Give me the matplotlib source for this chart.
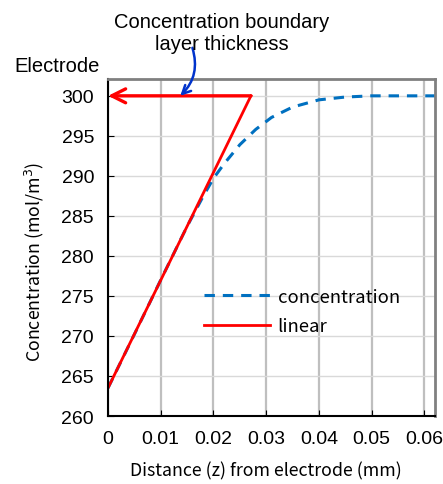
import matplotlib
matplotlib.use("Agg")
import matplotlib.pyplot as plt

# distance from electrode (mm) and concentration (mol/m3)
z_conc = [0.0, 0.005, 0.010, 0.015, 0.018, 0.020, 0.022, 0.025, 0.028,
          0.031, 0.035, 0.040, 0.045, 0.050, 0.055, 0.062]
conc = [263.5, 270.2, 277.0, 283.7, 287.4, 289.7, 291.5, 293.9, 295.8,
        297.3, 298.6, 299.5, 299.85, 300.0, 300.0, 300.0]

# linear approximation (tangent at the electrode)
z_lin = [0.0, 0.0271]
c_lin = [263.5, 300.0]

x_ticks = [0, 0.01, 0.02, 0.03, 0.04, 0.05, 0.06]
x_labels = ["0", "0.01", "0.02", "0.03", "0.04", "0.05", "0.06"]
y_ticks = [260, 265, 270, 275, 280, 285, 290, 295, 300]

BLUE = "#0070C0"
RED = "#FF0000"
JP = ["Noto Sans CJK JP", "DejaVu Sans"]

plt.rcParams["font.family"] = ["Liberation Sans", "DejaVu Sans"]

fig = plt.figure(figsize=(4.43, 4.85), dpi=100)
ax = fig.add_axes([0.2438, 0.1402, 0.7382, 0.6948])

ax.plot(z_conc, conc, color=BLUE, linewidth=2.2, linestyle=(0, (3.4, 2.6)),
        label="concentration")
ax.plot(z_lin, c_lin, color=RED, linewidth=2.0, label="linear")

# red arrow back to the electrode along the 300 line
ax.annotate("", xy=(0, 300), xytext=(z_lin[1], 300),
            arrowprops=dict(arrowstyle="->,head_length=1.0,head_width=0.5",
                            color=RED, lw=2.4, shrinkA=0, shrinkB=0))

ax.set_xlim(0, 0.062)
ax.set_ylim(260, 302.1)
ax.set_xticks(x_ticks)
ax.set_xticklabels(x_labels)
ax.set_yticks(y_ticks)
ax.tick_params(direction="in", length=4, labelsize=14, pad=10, colors="black")

ax.grid(axis="x", color="#BFBFBF", linewidth=1.6)
ax.grid(axis="y", color="#D9D9D9", linewidth=1.0)
ax.set_axisbelow(True)

for side in ("left", "bottom"):
    ax.spines[side].set_color("black")
    ax.spines[side].set_linewidth(1.5)
for side in ("top", "right"):
    ax.spines[side].set_color("#808080")
    ax.spines[side].set_linewidth(2.0)

ax.set_xlabel("Distance (z) from electrode (mm)", fontsize=12.8, family=JP)
ax.set_ylabel("Concentration (mol/m$^3$)", fontsize=12.8, family=JP)
ax.xaxis.set_label_coords(0.483, -0.135)
ax.yaxis.set_label_coords(-0.19, 0.46)

ax.legend(loc="upper left", bbox_to_anchor=(0.27, 0.402), frameon=False,
          prop={"family": JP, "size": 13.3},
          handlelength=3.6, handletextpad=0.4, labelspacing=0.62,
          borderaxespad=0)

fig.text(0.5, 0.931, "Concentration boundary\nlayer thickness",
         ha="center", va="center", fontsize=14.5, linespacing=1.25)
fig.text(0.033, 0.862, "Electrode", ha="left", va="center", fontsize=14.5)

# hand-drawn style pointer to the layer thickness
ax.annotate("", xy=(0.0137, 300), xytext=(0.0160, 306.0),
            annotation_clip=False,
            arrowprops=dict(arrowstyle="->,head_length=0.6,head_width=0.3",
                            color="#0033CC", lw=1.8,
                            connectionstyle="arc3,rad=-0.3",
                            shrinkA=0, shrinkB=0))

fig.savefig("out.png", dpi=100)
